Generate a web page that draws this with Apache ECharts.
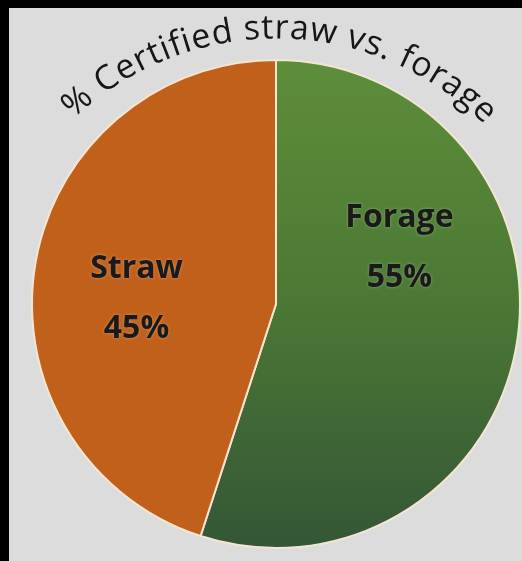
<!DOCTYPE html>
<html>
<head>
<meta charset="utf-8">
<script src="https://cdn.jsdelivr.net/npm/echarts@6/dist/echarts.min.js"></script>
<style>
  html, body { margin: 0; padding: 0; background: #000; width: 522px; height: 561px; overflow: hidden; }
  #chart { position: absolute; left: 9px; top: 8px; width: 513px; height: 553px; background: #dcdcdc; }
</style>
</head>
<body>
<div id="chart"></div>
<script>
// Share of certified straw vs. forage
const categories = ['Forage', 'Straw'];
const values = [55, 45];
const palette = ['forage', 'straw'];
const titleText = '% Certified straw vs. forage';

const PIE_CX = 267, PIE_CY = 296, PIE_R = 244;

const fills = {
  forage: new echarts.graphic.LinearGradient(0, 0, 0, 1, [
    { offset: 0, color: '#5d8e3a' },
    { offset: 0.5, color: '#4b7834' },
    { offset: 1, color: '#345636' }
  ]),
  straw: '#c0601a'
};

// Shifts of the inside labels away from their default slice midpoints
const labelShift = [{ dx: 0, dy: -76 }, { dx: -16, dy: 14 }];

// Curved title: each glyph is placed along a circular arc above the pie
function arcTitle(text, font, fontSize, cx, cy, r, centerDeg, targetLen) {
  const ctx = document.createElement('canvas').getContext('2d');
  ctx.font = font;
  const widths = Array.from(text).map(ch => ctx.measureText(ch).width);
  const natural = widths.reduce((a, b) => a + b, 0);
  const extra = (targetLen - natural) / (widths.length - 1);
  const total = natural + extra * (widths.length - 1);
  let s = -total / 2;
  const items = [];
  const rc = r + fontSize * 0.33;
  Array.from(text).forEach((ch, i) => {
    const mid = s + widths[i] / 2;
    const th = centerDeg * Math.PI / 180 + mid / r;
    items.push({
      type: 'text',
      x: cx + rc * Math.sin(th),
      y: cy - rc * Math.cos(th),
      rotation: -th,
      style: {
        text: ch,
        font: font,
        fill: '#161616',
        align: 'center',
        verticalAlign: 'middle'
      },
      silent: true,
      z: 10
    });
    s += widths[i] + extra;
  });
  return items;
}

const chart = echarts.init(document.getElementById('chart'), null, { renderer: 'canvas' });

const TITLE_FS = 34;
const titleFont = '400 ' + TITLE_FS + 'px "Open Sans", sans-serif';

chart.setOption({
  backgroundColor: '#dcdcdc',
  animation: false,
  graphic: arcTitle(titleText, titleFont, TITLE_FS, PIE_CX, PIE_CY + 30, 294, 0.8, 452),
  series: [{
    type: 'pie',
    center: [PIE_CX, PIE_CY],
    radius: [0, PIE_R],
    startAngle: 90,
    clockwise: true,
    percentPrecision: 0,
    data: categories.map((name, i) => ({
      name: name,
      value: values[i],
      itemStyle: { color: fills[palette[i]] }
    })),
    itemStyle: { borderColor: '#f4e6d2', borderWidth: 2 },
    label: {
      show: true,
      position: 'inside',
      formatter: '{b}\n{d}%',
      fontFamily: '"Open Sans", sans-serif',
      fontWeight: 'bold',
      fontSize: 32,
      lineHeight: 60,
      color: '#1a1a1a',
      textShadowColor: 'rgba(255,255,255,0.35)',
      textShadowBlur: 3
    },
    labelLayout: function (params) {
      return labelShift[params.dataIndex];
    },
    labelLine: { show: false },
    emphasis: { disabled: true }
  }]
});
</script>
</body>
</html>
